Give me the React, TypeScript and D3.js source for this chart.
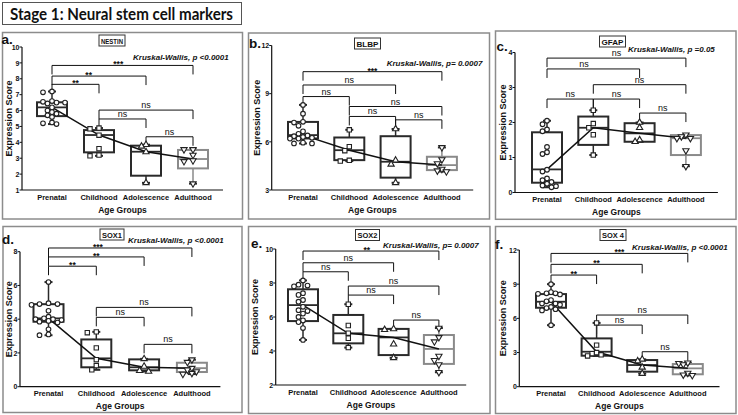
import React from 'react';
import * as d3 from 'd3';

const FONT = '"Liberation Sans", Arial, Helvetica, sans-serif';
const GROUPS = ['Prenatal', 'Childhood', 'Adolescence', 'Adulthood'];

// ---------- a. NESTIN ----------
const nestinPoints = [
  [7.2, 7.15, 6.55, 6.5, 6.5, 6.6, 6.45, 6.2, 6.0, 5.9, 5.8, 5.7, 5.6, 5.25, 5.2, 5.15],
  [4.9, 4.85, 4.45, 3.6, 3.2, 3.15],
  [3.85, 3.75, 3.4, 1.45],
  [3.55, 3.55, 3.2, 2.85, 2.8, 1.4],
];
const nestinQ1 = [5.65, 3.37, 1.9, 2.36];
const nestinMedian = [6.2, 4.46, 3.41, 2.95];
const nestinQ3 = [6.52, 4.77, 3.79, 3.52];
const nestinTicks = [1, 2, 3, 4, 5, 6, 7, 8, 9, 10];
const nestinBrackets = [
  { a: 0, b: 3, label: '***', y: 8.84, lx: 0.47 },
  { a: 0, b: 2, label: '**', y: 8.17, lx: 0.39 },
  { a: 0, b: 1, label: '**', y: 7.65 },
  { a: 1, b: 3, label: 'ns', y: 6.03 },
  { a: 1, b: 2, label: 'ns', y: 5.47 },
  { a: 2, b: 3, label: 'ns', y: 4.35 },
];

// ---------- b. BLBP ----------
const blbpPoints = [
  [8.3, 7.75, 7.25, 7.2, 7.0, 6.65, 6.5, 6.4, 6.35, 6.3, 6.25, 6.2, 6.2, 5.95, 5.9, 5.9],
  [6.75, 5.7, 5.45, 4.85, 4.8],
  [6.8, 4.85, 4.6, 3.45],
  [5.65, 4.9, 4.65, 4.3, 4.2, 4.15],
];
const blbpQ1 = [6.21, 4.86, 3.77, 4.24];
const blbpMedian = [6.42, 5.48, 4.76, 4.55];
const blbpQ3 = [7.24, 6.27, 6.35, 5.07];
const blbpTicks = [3, 6, 9, 12];
const blbpBrackets = [
  { a: 0, b: 3, label: '***', y: 10.37 },
  { a: 0, b: 2, label: 'ns', y: 9.54 },
  { a: 0, b: 1, label: 'ns', y: 8.82 },
  { a: 1, b: 3, label: 'ns', y: 8.2 },
  { a: 1, b: 2, label: 'ns', y: 7.58 },
  { a: 2, b: 3, label: 'ns', y: 7.37 },
];

// ---------- c. GFAP ----------
const gfapPoints = [
  [2.05, 1.95, 1.8, 1.75, 1.3, 1.15, 1.1, 0.65, 0.6, 0.4, 0.35, 0.3, 0.25, 0.2, 0.15, 0.18],
  [2.35, 1.97, 1.85, 1.65, 1.07],
  [2.0, 1.85, 1.5, 1.45],
  [1.65, 1.6, 1.55, 1.55, 1.2, 0.75],
];
const gfapQ1 = [0.28, 1.36, 1.45, 1.07];
const gfapMedian = [0.66, 1.85, 1.69, 1.55];
const gfapQ3 = [1.72, 2.17, 1.98, 1.64];
const gfapTicks = [0, 1, 2, 3, 4];
const gfapBrackets = [
  { a: 0, b: 3, label: 'ns', y: 3.84 },
  { a: 0, b: 2, label: 'ns', y: 3.53, lx: 0.4 },
  { a: 1, b: 3, label: 'ns', y: 3.08 },
  { a: 0, b: 1, label: 'ns', y: 2.67 },
  { a: 1, b: 2, label: 'ns', y: 2.67 },
  { a: 2, b: 3, label: 'ns', y: 2.27 },
];

// ---------- d. SOX1 ----------
const sox1Points = [
  [6.2, 4.95, 4.9, 4.85, 4.9, 4.5, 4.15, 4.05, 4.0, 4.0, 3.95, 3.9, 3.85, 3.8, 3.4, 3.1, 3.05],
  [3.25, 3.2, 2.3, 1.6, 1.25, 1.0],
  [1.65, 1.2, 0.95, 0.9],
  [1.6, 1.45, 1.1, 1.0, 0.9, 0.8, 0.75],
];
const sox1Q1 = [3.85, 1.15, 0.97, 0.87];
const sox1Median = [4.05, 1.68, 1.15, 1.1];
const sox1Q3 = [4.89, 2.8, 1.62, 1.42];
const sox1Ticks = [0, 2, 4, 6, 8];
const sox1Brackets = [
  { a: 0, b: 3, label: '***', y: 8.22, lx: 0.345 },
  { a: 0, b: 2, label: '**', y: 7.69 },
  { a: 0, b: 1, label: '**', y: 7.14 },
  { a: 1, b: 3, label: 'ns', y: 4.7 },
  { a: 1, b: 2, label: 'ns', y: 4.11 },
  { a: 2, b: 3, label: 'ns', y: 2.51 },
];

// ---------- e. SOX2 ----------
const sox2Points = [
  [8.15, 7.9, 7.85, 7.8, 7.4, 7.3, 7.0, 6.9, 6.6, 6.4, 6.35, 6.2, 6.0, 5.8, 5.7, 5.35, 4.65],
  [6.75, 5.5, 5.05, 4.75, 4.2],
  [5.3, 5.25, 4.4, 3.6],
  [5.35, 4.8, 4.55, 3.7, 3.45, 3.2, 2.75],
];
const sox2Q1 = [5.76, 4.45, 3.76, 3.24];
const sox2Median = [6.7, 5.04, 4.8, 4.12];
const sox2Q3 = [7.63, 6.12, 5.3, 4.94];
const sox2Ticks = [2, 4, 6, 8, 10];
const sox2Brackets = [
  { a: 0, b: 3, label: '**', y: 9.88, lx: 0.47 },
  { a: 0, b: 2, label: 'ns', y: 9.19 },
  { a: 0, b: 1, label: 'ns', y: 8.66 },
  { a: 1, b: 3, label: 'ns', y: 7.82 },
  { a: 1, b: 2, label: 'ns', y: 7.29 },
  { a: 2, b: 3, label: 'ns', y: 5.82 },
];

// ---------- f. SOX 4 ----------
const sox4Points = [
  [9.0, 8.3, 8.2, 8.2, 8.15, 8.1, 7.6, 7.5, 7.3, 7.3, 7.2, 7.0, 6.9, 6.8, 6.7, 5.4],
  [5.6, 3.65, 3.0, 2.9, 2.8, 2.7],
  [2.4, 2.25, 1.7, 1.15],
  [2.1, 2.05, 1.95, 1.2, 1.05, 1.0],
];
const sox4Q1 = [6.93, 2.72, 1.32, 1.09];
const sox4Median = [7.46, 3.07, 1.9, 1.61];
const sox4Q3 = [8.13, 4.24, 2.34, 1.99];
const sox4Ticks = [0, 3, 6, 9, 12];
const sox4Brackets = [
  { a: 0, b: 3, label: '***', y: 11.7 },
  { a: 0, b: 2, label: '**', y: 10.74 },
  { a: 0, b: 1, label: '**', y: 9.8 },
  { a: 1, b: 3, label: 'ns', y: 6.29 },
  { a: 1, b: 2, label: 'ns', y: 5.41 },
  { a: 2, b: 3, label: 'ns', y: 3.07 },
];

// ---------- layout (positions only) ----------
const layouts = {
  a: { fx: 2.5, fy: 32.5, fw: 240, fh: 186.5, axisX: 22, yTop: 47, yBot: 190, cat0: 52, step: 47, letterX: 1.5, letterY: 44, titleCx: 112, titleTop: 35, titleW: 26, kwX: 133, kwY: 60, ylabX: 8.5 },
  b: { fx: 248.5, fy: 33, fw: 241, fh: 186, axisX: 271.7, yTop: 45.5, yBot: 190, cat0: 303, step: 46.3, letterX: 249, letterY: 48, titleCx: 367.5, titleTop: 38, titleW: 26, kwX: 386.7, kwY: 65.5, ylabX: 256.5 },
  c: { fx: 495.5, fy: 31, fw: 240.5, fh: 188.3, axisX: 515, yTop: 52.5, yBot: 192.5, cat0: 547, step: 46.3, letterX: 496.5, letterY: 51, titleCx: 612.5, titleTop: 36, titleW: 26, kwX: 628, kwY: 52, ylabX: 503 },
  d: { fx: 3, fy: 226.5, fw: 239, fh: 186, axisX: 20, yTop: 251.7, yBot: 386.7, cat0: 48.5, step: 47.8, letterX: 2, letterY: 243.5, titleCx: 112, titleTop: 229, titleW: 24, kwX: 128, kwY: 243, ylabX: 8.5 },
  e: { fx: 248.5, fy: 226.5, fw: 241.5, fh: 187, axisX: 275.7, yTop: 249, yBot: 385, cat0: 303, step: 45.3, letterX: 251, letterY: 247.5, titleCx: 367.5, titleTop: 229.5, titleW: 24, kwX: 383, kwY: 247.5, ylabX: 255 },
  f: { fx: 495.5, fy: 226.5, fw: 240.5, fh: 187, axisX: 519.3, yTop: 250, yBot: 386.7, cat0: 551, step: 45.6, letterX: 495, letterY: 248.5, titleCx: 613, titleTop: 229.5, titleW: 26, kwX: 632, kwY: 250, ylabX: 503 },
};

const panels = [
  { id: 'a', title: 'NESTIN', kw: 'Kruskal-Wallis, p <0.0001', points: nestinPoints, q1: nestinQ1, median: nestinMedian, q3: nestinQ3, ticks: nestinTicks, brackets: nestinBrackets, L: layouts.a },
  { id: 'b', title: 'BLBP', kw: 'Kruskal-Wallis, p= 0.0007', points: blbpPoints, q1: blbpQ1, median: blbpMedian, q3: blbpQ3, ticks: blbpTicks, brackets: blbpBrackets, L: layouts.b },
  { id: 'c', title: 'GFAP', kw: 'Kruskal-Wallis, p =0.05', points: gfapPoints, q1: gfapQ1, median: gfapMedian, q3: gfapQ3, ticks: gfapTicks, brackets: gfapBrackets, L: layouts.c },
  { id: 'd', title: 'SOX1', kw: 'Kruskal-Wallis, p <0.0001', points: sox1Points, q1: sox1Q1, median: sox1Median, q3: sox1Q3, ticks: sox1Ticks, brackets: sox1Brackets, L: layouts.d },
  { id: 'e', title: 'SOX2', kw: 'Kruskal-Wallis, p= 0.0007', points: sox2Points, q1: sox2Q1, median: sox2Median, q3: sox2Q3, ticks: sox2Ticks, brackets: sox2Brackets, L: layouts.e },
  { id: 'f', title: 'SOX 4', kw: 'Kruskal-Wallis, p <0.0001', points: sox4Points, q1: sox4Q1, median: sox4Median, q3: sox4Q3, ticks: sox4Ticks, brackets: sox4Brackets, L: layouts.f },
];

const symPaths = [
  d3.symbol().type(d3.symbolCircle).size(17)() as string,
  d3.symbol().type(d3.symbolSquare).size(19)() as string,
  d3.symbol().type(d3.symbolTriangle).size(17)() as string,
  d3.symbol().type(d3.symbolTriangle).size(17)() as string,
];

function swarm(vals: number[], y: (v: number) => number) {
  const placed: { x: number; y: number }[] = [];
  const order = vals.map((_, i) => i).sort((a, b) => vals[b] - vals[a]);
  const res: number[] = new Array(vals.length).fill(0);
  const cands = [0, -4.5, 4.5, -9, 9, -13, 13, -17, 17];
  for (const i of order) {
    const py = y(vals[i]);
    let dx = 0;
    for (const c of cands) {
      if (placed.every((p) => Math.hypot(p.x - c, p.y - py) >= 4.6)) {
        dx = c;
        break;
      }
    }
    placed.push({ x: dx, y: py });
    res[i] = dx;
  }
  return res;
}

function Panel({ p }: { p: any }) {
  const L = p.L;
  const ticks: number[] = p.ticks;
  const y = d3.scaleLinear().domain([ticks[0], ticks[ticks.length - 1]]).range([L.yBot, L.yTop]);
  const x = d3.scalePoint<string>().domain(GROUPS).range([L.cat0, L.cat0 + 3 * L.step]);
  const boxW = 30;
  const capW = 8;
  const xEnd = (x(GROUPS[3]) as number) + (L.cat0 - L.axisX);
  const line = d3
    .line<number>()
    .x((_, i) => x(GROUPS[i]) as number)
    .y((v) => y(v));
  const tick = 9;

  return (
    <g>
      <rect x={L.fx} y={L.fy} width={L.fw} height={L.fh} fill="#fff" stroke="#8c8c8c" strokeWidth={1.5} />
      {/* panel letter */}
      <text x={L.letterX} y={L.letterY} fontFamily={FONT} fontWeight="bold" fontSize={13.5} fill="#111">
        {p.id + '.'}
      </text>
      {/* marker title */}
      <rect x={L.titleCx - L.titleW / 2} y={L.titleTop} width={L.titleW} height={11} fill="#fff" stroke="#333" strokeWidth={1} />
      <text x={L.titleCx} y={L.titleTop + 8.6} textAnchor="middle" fontFamily={FONT} fontWeight="bold" fontSize={7.5} fill="#111"
        textLength={L.titleW - 4} lengthAdjust="spacingAndGlyphs">
        {p.title}
      </text>
      {/* Kruskal-Wallis */}
      <text x={L.kwX} y={L.kwY} fontFamily={FONT} fontWeight="bold" fontStyle="italic" fontSize={8} fill="#111">
        {p.kw}
      </text>
      {/* y axis */}
      <line x1={L.axisX} x2={L.axisX} y1={y(ticks[0])} y2={y(ticks[ticks.length - 1])} stroke="#111" strokeWidth={1.2} />
      {ticks.map((t) => (
        <g key={t}>
          <line x1={L.axisX - 2.5} x2={L.axisX} y1={y(t)} y2={y(t)} stroke="#111" strokeWidth={1} />
          <text x={L.axisX - 2.5} y={y(t) + 2.7} textAnchor="end" fontFamily={FONT} fontWeight="bold" fontSize={7} fill="#111">
            {t}
          </text>
        </g>
      ))}
      {/* x axis */}
      <line x1={L.axisX} x2={xEnd} y1={L.yBot} y2={L.yBot} stroke="#111" strokeWidth={1.2} />
      {GROUPS.map((g) => (
        <text key={g} x={x(g) as number} y={L.yBot + 9.5} textAnchor="middle" fontFamily={FONT} fontWeight="bold" fontSize={7.5} fill="#111">
          {g}
        </text>
      ))}
      <text
        x={((x(GROUPS[0]) as number) + (x(GROUPS[3]) as number)) / 2}
        y={L.yBot + 22.5}
        textAnchor="middle"
        fontFamily={FONT}
        fontWeight="bold"
        fontSize={8.5}
        fill="#111"
      >
        Age Groups
      </text>
      <text
        transform={`translate(${L.ylabX},${(L.yTop + L.yBot) / 2}) rotate(-90)`}
        textAnchor="middle"
        dominantBaseline="central"
        fontFamily={FONT}
        fontWeight="bold"
        fontSize={9}
        fill="#111"
      >
        Expression Score
      </text>
      {/* brackets */}
      {p.brackets.map((b: any, i: number) => {
        const x1 = x(GROUPS[b.a]) as number;
        const x2 = x(GROUPS[b.b]) as number;
        const by = y(b.y);
        const lx = x1 + (x2 - x1) * (b.lx ?? 0.5);
        const isNs = b.label === 'ns';
        return (
          <g key={i}>
            <path d={`M${x1},${by + tick}V${by}H${x2}V${by + tick}`} fill="none" stroke="#111" strokeWidth={1} />
            <text x={lx} y={isNs ? by - 2 : by + 2} textAnchor="middle" fontFamily={FONT} fontWeight={isNs ? 'normal' : 'bold'}
              fontSize={isNs ? 9 : 8.5} fill="#111">
              {b.label}
            </text>
          </g>
        );
      })}
      {/* boxes */}
      {GROUPS.map((g, i) => {
        const cx = x(g) as number;
        const col = i === 3 ? '#8a8a8a' : '#2a2a2a';
        const [mn, mx] = d3.extent(p.points[i] as number[]) as [number, number];
        return (
          <g key={g} stroke={col} fill="none">
            <line x1={cx} x2={cx} y1={y(p.q3[i])} y2={y(mx)} strokeWidth={1.5} />
            <line x1={cx} x2={cx} y1={y(p.q1[i])} y2={y(mn)} strokeWidth={1.5} />
            <line x1={cx - capW / 2} x2={cx + capW / 2} y1={y(mx)} y2={y(mx)} strokeWidth={2} stroke="#2a2a2a" />
            <line x1={cx - capW / 2} x2={cx + capW / 2} y1={y(mn)} y2={y(mn)} strokeWidth={2} stroke="#2a2a2a" />
            <rect x={cx - boxW / 2} y={y(p.q3[i])} width={boxW} height={y(p.q1[i]) - y(p.q3[i])} strokeWidth={2} />
            <line x1={cx - boxW / 2} x2={cx + boxW / 2} y1={y(p.median[i])} y2={y(p.median[i])} strokeWidth={1.8} />
          </g>
        );
      })}
      {/* median trend line */}
      <path d={line(p.median) as string} fill="none" stroke="#111" strokeWidth={1.5} />
      {/* points */}
      {GROUPS.map((g, i) => {
        const vals: number[] = p.points[i];
        const dx = swarm(vals, (v) => y(v));
        const cx = x(g) as number;
        return (
          <g key={g}>
            {vals.map((v, j) => (
              <path
                key={j}
                d={symPaths[i]}
                transform={`translate(${cx + dx[j]},${y(v)})${i === 3 ? ' rotate(180)' : ''}`}
                fill="#fff"
                stroke="#222"
                strokeWidth={1.1}
              />
            ))}
          </g>
        );
      })}
    </g>
  );
}

export default function App() {
  return (
    <svg width={738} height={415} style={{ position: 'absolute', left: 0, top: 0, background: '#fff' }}>
      <rect x={0} y={0} width={738} height={415} fill="#fff" />
      <rect x={2.5} y={2.5} width={239} height={22} fill="#fff" stroke="#555" strokeWidth={1} />
      <text x={121.5} y={19.5} textAnchor="middle" fontFamily='Lato, "Open Sans", sans-serif' fontWeight="bold" fontSize={17}
        fill="#111" textLength={223} lengthAdjust="spacingAndGlyphs">
        Stage 1: Neural stem cell markers
      </text>
      {panels.map((p) => (
        <Panel key={p.id} p={p} />
      ))}
    </svg>
  );
}
